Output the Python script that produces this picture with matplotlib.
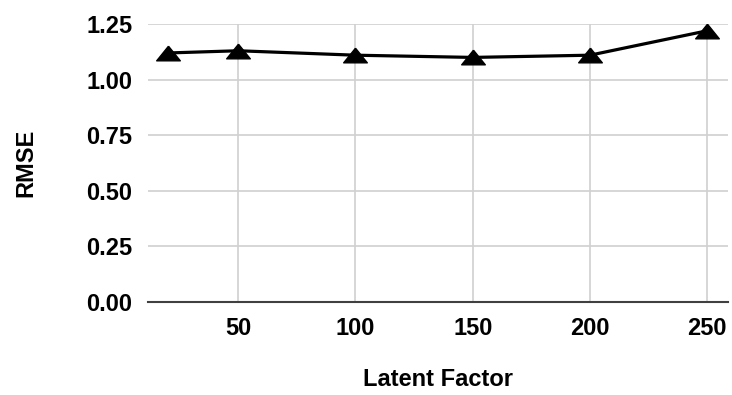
import matplotlib.pyplot as plt

# --- Data ---
latent_factor = [20, 50, 100, 150, 200, 250]
rmse = [1.12, 1.13, 1.11, 1.10, 1.11, 1.22]
x_ticks = [50, 100, 150, 200, 250]
y_ticks = [0.00, 0.25, 0.50, 0.75, 1.00, 1.25]

plt.rcParams['font.family'] = ['Liberation Sans', 'DejaVu Sans']
plt.rcParams['font.weight'] = 'bold'

fig = plt.figure(figsize=(7.32, 3.95), dpi=100)
ax = fig.add_axes([0.202, 0.236, 0.793, 0.703])

# flattened triangle like the Excel marker
tri = [(0, 0.62), (-1, -0.62), (1, -0.62), (0, 0.62)]
ax.plot(latent_factor, rmse, color='black', lw=2.3, marker=tri,
        markersize=17, markerfacecolor='black', markeredgecolor='black',
        zorder=3)

ax.set_xlim(11.5, 259)
ax.set_ylim(0, 1.25)
ax.set_xticks(x_ticks)
ax.set_yticks(y_ticks)
ax.set_yticklabels([f'{v:.2f}' for v in y_ticks])

ax.grid(True, color='#d0d0d0', lw=1.2)
ax.set_axisbelow(True)
for s in ['left', 'right', 'top']:
    ax.spines[s].set_visible(False)
ax.spines['bottom'].set_color('#404040')
ax.spines['bottom'].set_linewidth(1.5)
ax.tick_params(axis='both', length=0, labelsize=17)
ax.tick_params(axis='y', pad=11)
ax.tick_params(axis='x', pad=11)

ax.set_xlabel('Latent Factor', fontsize=17, fontweight='bold', labelpad=20)
ax.set_ylabel('RMSE', fontsize=17, fontweight='bold', labelpad=35)

fig.savefig('out.png', dpi=100)
